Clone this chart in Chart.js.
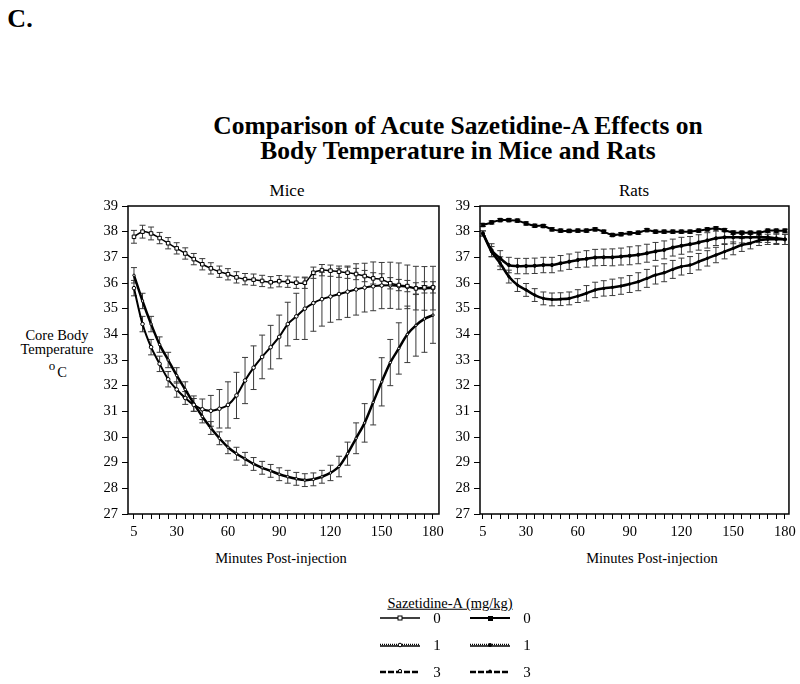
<!DOCTYPE html>
<html>
<head>
<meta charset="utf-8">
<script src="https://cdn.jsdelivr.net/npm/chart.js@4.4.1/dist/chart.umd.min.js"></script>
<style>
body { margin:0; width:800px; height:684px; background:#fff; position:relative; overflow:hidden;
       font-family:'Liberation Serif','Times New Roman',serif; color:#000; }
.t { position:absolute; white-space:nowrap; line-height:1; transform:translate(-50%,-50%); }
canvas { position:absolute; }
</style>
</head>
<body>
<div class="t" style="left:20px;top:19px;font-size:26px;font-weight:bold;">C.</div>
<div class="t" style="left:458px;top:126px;font-size:25.5px;font-weight:bold;">Comparison of Acute Sazetidine-A Effects on</div>
<div class="t" style="left:458px;top:151px;font-size:25.5px;font-weight:bold;">Body Temperature in Mice and Rats</div>

<div class="t" style="left:287px;top:190px;font-size:17px;">Mice</div>
<div class="t" style="left:634px;top:190px;font-size:17px;">Rats</div>

<div class="t" style="left:57px;top:335px;font-size:14.5px;">Core Body</div>
<div class="t" style="left:57px;top:349px;font-size:14.5px;">Temperature</div>
<div class="t" style="left:52px;top:365px;font-size:13px;">o</div>
<div class="t" style="left:62px;top:372px;font-size:14.5px;">C</div>

<div class="t" style="left:281px;top:558px;font-size:14.5px;">Minutes Post-injection</div>
<div class="t" style="left:652px;top:558px;font-size:14.5px;">Minutes Post-injection</div>

<canvas id="miceChart" width="360" height="360" style="left:88px;top:190px;"></canvas>
<canvas id="ratsChart" width="352" height="360" style="left:448px;top:190px;"></canvas>

<!-- legend -->
<div class="t" style="left:450px;top:603px;font-size:14.5px;text-decoration:underline;">Sazetidine-A (mg/kg)</div>
<svg width="800" height="684" style="position:absolute;left:0;top:0;pointer-events:none;">
  <line x1="380" y1="618" x2="420" y2="618" stroke="#000" stroke-width="1.5"/>
  <rect x="398" y="616" width="4" height="4" fill="#fff" stroke="#000" stroke-width="1"/>
  <line x1="470" y1="618" x2="510" y2="618" stroke="#000" stroke-width="2"/>
  <rect x="488" y="616" width="5" height="5" fill="#000"/>

  <line x1="380" y1="646" x2="420" y2="646" stroke="#000" stroke-width="1.5"/>
  <line x1="380" y1="644.5" x2="420" y2="644.5" stroke="#000" stroke-width="1.5" stroke-dasharray="1 1"/>
  <circle cx="400" cy="645" r="1.8" fill="#fff" stroke="#000" stroke-width="1"/>
  <line x1="470" y1="646" x2="510" y2="646" stroke="#000" stroke-width="1.5"/>
  <line x1="470" y1="644.5" x2="510" y2="644.5" stroke="#000" stroke-width="1.5" stroke-dasharray="1 1"/>
  <circle cx="490" cy="645" r="2" fill="#000"/>

  <line x1="380" y1="672" x2="420" y2="672" stroke="#000" stroke-width="2.5" stroke-dasharray="6 2"/>
  <circle cx="400" cy="671" r="1.6" fill="#fff" stroke="#000" stroke-width="1"/>
  <line x1="470" y1="672" x2="510" y2="672" stroke="#000" stroke-width="2.5" stroke-dasharray="6 2"/>
  <circle cx="490" cy="671" r="1.6" fill="#000"/>
</svg>
<div class="t" style="left:437px;top:618px;font-size:15px;">0</div>
<div class="t" style="left:437px;top:645px;font-size:15px;">1</div>
<div class="t" style="left:437px;top:672px;font-size:15px;">3</div>
<div class="t" style="left:527px;top:618px;font-size:15px;">0</div>
<div class="t" style="left:527px;top:645px;font-size:15px;">1</div>
<div class="t" style="left:527px;top:672px;font-size:15px;">3</div>

<script>
// minutes after injection (one reading every 5 min)
var minutes = [5,10,15,20,25,30,35,40,45,50,55,60,65,70,75,80,85,90,
               95,100,105,110,115,120,125,130,135,140,145,150,155,160,165,170,175,180];
var xTickLabels = [5, 30, 60, 90, 120, 150, 180];
var tempMin = 27, tempMax = 39;

// mice, core body temperature (deg C) by dose
var miceDose0 = [37.8,38.0,37.93,37.75,37.55,37.35,37.15,36.93,36.73,36.57,36.44,36.34,36.22,36.15,36.13,36.08,36.03,36.07,
                 36.05,36.01,36.01,36.4,36.5,36.48,36.44,36.4,36.35,36.27,36.18,36.14,35.99,35.92,35.88,35.79,35.83,35.83];
var miceDose1 = [35.8,34.4,33.5,32.85,32.25,31.85,31.52,31.25,31.08,31.02,31.1,31.25,31.62,32.2,32.7,33.12,33.5,33.9,
                 34.4,34.7,35.0,35.22,35.37,35.47,35.57,35.66,35.75,35.82,35.87,35.9,35.91,35.88,35.85,35.8,35.79,35.8];
var miceDose3 = [36.3,35.3,34.4,33.6,33.0,32.4,31.85,31.3,30.8,30.35,29.95,29.6,29.35,29.15,28.95,28.8,28.68,28.55,
                 28.45,28.37,28.32,28.35,28.45,28.6,28.85,29.35,29.95,30.55,31.35,32.15,32.9,33.45,34.0,34.35,34.6,34.75];
// SEM
var miceErr0 = [0.25,0.25,0.25,0.22,0.22,0.22,0.22,0.22,0.22,0.22,0.22,0.22,0.22,0.22,0.22,0.22,0.22,0.22,
                0.22,0.22,0.22,0.22,0.22,0.22,0.22,0.22,0.22,0.22,0.22,0.22,0.22,0.22,0.22,0.22,0.22,0.22];
var miceErr1 = [0.3,0.3,0.3,0.3,0.3,0.3,0.25,0.25,0.4,0.6,0.75,0.9,0.9,0.9,0.85,0.85,0.85,0.85,
                0.85,0.9,1.2,1.1,1.05,1.0,1.0,1.0,1.0,0.95,0.95,0.9,0.9,0.9,0.85,0.85,0.85,0.85];
var miceErr3 = [0.3,0.3,0.3,0.3,0.3,0.3,0.3,0.3,0.25,0.25,0.25,0.25,0.25,0.25,0.25,0.25,0.25,0.25,
                0.25,0.25,0.25,0.25,0.25,0.3,0.4,0.45,0.6,0.75,0.88,0.94,0.9,1.0,1.1,1.2,1.3,1.1];

// rats
var ratsDose0 = [38.26,38.36,38.45,38.45,38.43,38.32,38.23,38.22,38.09,38.04,38.03,38.04,38.04,38.09,38.0,37.87,37.9,37.94,
                 37.96,38.06,38.0,38.0,38.0,38.0,38.0,38.04,38.09,38.13,38.06,37.96,37.96,37.96,37.96,38.04,38.04,38.04];
var ratsDose1 = [37.93,37.28,36.96,36.7,36.66,36.66,36.67,36.7,36.7,36.77,36.83,36.9,36.94,36.99,37.0,37.0,37.03,37.06,
                 37.1,37.16,37.23,37.29,37.38,37.45,37.51,37.58,37.66,37.74,37.78,37.78,37.78,37.78,37.78,37.78,37.74,37.7];
var ratsDose3 = [37.93,37.22,36.77,36.25,35.92,35.73,35.53,35.4,35.36,35.37,35.4,35.49,35.6,35.73,35.79,35.83,35.88,35.96,
                 36.05,36.18,36.31,36.4,36.53,36.64,36.7,36.83,36.96,37.09,37.22,37.35,37.48,37.55,37.66,37.7,37.7,37.7];
var ratsErr0 = [0.06,0.06,0.06,0.06,0.06,0.06,0.06,0.06,0.06,0.06,0.06,0.06,0.06,0.06,0.06,0.06,0.06,0.06,
                0.06,0.06,0.06,0.06,0.06,0.06,0.06,0.06,0.06,0.06,0.06,0.06,0.06,0.06,0.06,0.06,0.06,0.06];
var ratsErr1 = [0.1,0.25,0.3,0.3,0.3,0.3,0.3,0.3,0.3,0.3,0.3,0.3,0.32,0.32,0.32,0.33,0.33,0.35,
                0.35,0.35,0.35,0.35,0.33,0.33,0.3,0.3,0.3,0.28,0.25,0.25,0.22,0.2,0.2,0.2,0.2,0.2];
var ratsErr3 = [0.1,0.2,0.25,0.25,0.25,0.25,0.25,0.25,0.25,0.25,0.25,0.25,0.3,0.3,0.3,0.32,0.32,0.33,
                0.35,0.35,0.35,0.35,0.35,0.33,0.33,0.32,0.3,0.3,0.28,0.25,0.25,0.22,0.2,0.2,0.2,0.2];

Chart.defaults.font.family = "'Liberation Serif','Times New Roman',serif";
Chart.defaults.color = '#000';

function pts(vals) {
    return minutes.map(function(m, i) { return { x: m, y: vals[i] }; });
}

// SEM bars behind the lines
var errorBars = {
    id: 'errorBars',
    beforeDatasetsDraw: function(chart) {
        var ctx = chart.ctx, ys = chart.scales.y;
        chart.data.datasets.forEach(function(ds, i) {
            if (!ds.errors) return;
            var meta = chart.getDatasetMeta(i);
            ctx.save();
            ctx.strokeStyle = '#3a3a3a';
            ctx.lineWidth = 1;
            meta.data.forEach(function(p, j) {
                var v = ds.data[j].y, e = ds.errors[j];
                var top = ys.getPixelForValue(v + e), bot = ys.getPixelForValue(v - e);
                ctx.beginPath();
                ctx.moveTo(p.x, top); ctx.lineTo(p.x, bot);
                ctx.moveTo(p.x - 3, top); ctx.lineTo(p.x + 3, top);
                ctx.moveTo(p.x - 3, bot); ctx.lineTo(p.x + 3, bot);
                ctx.stroke();
            });
            ctx.restore();
        });
    }
};

// full frame round the plot
var frame = {
    id: 'frame',
    afterDraw: function(chart) {
        var a = chart.chartArea, ctx = chart.ctx;
        ctx.save();
        ctx.strokeStyle = '#000';
        ctx.lineWidth = 1.5;
        ctx.strokeRect(a.left, a.top, a.right - a.left, a.bottom - a.top);
        ctx.restore();
    }
};

function makePanel(id, datasets, xMin, xMax, yWidth, padRight) {
    var canvas = document.getElementById(id);
    if (!canvas) { console.error("no canvas " + id); return; }
    return new Chart(canvas.getContext('2d'), {
        type: 'line',
        data: { datasets: datasets },
        options: {
            responsive: false,
            animation: false,
            devicePixelRatio: 1,
            layout: { padding: { top: 16, right: padRight, left: 0, bottom: 0 } },
            plugins: { legend: { display: false }, tooltip: { enabled: false } },
            scales: {
                x: {
                    type: 'linear', min: xMin, max: xMax,
                    afterBuildTicks: function(s) { s.ticks = minutes.map(function(m) { return { value: m }; }); },
                    afterFit: function(s) { s.height = 36; },
                    grid: { drawOnChartArea: false, drawTicks: true, tickLength: 5, color: '#000' },
                    border: { display: false },
                    ticks: {
                        autoSkip: false, maxRotation: 0, padding: 4, font: { size: 14.5 },
                        callback: function(v) { return xTickLabels.indexOf(v) >= 0 ? String(v) : ''; }
                    }
                },
                y: {
                    min: tempMin, max: tempMax,
                    afterFit: function(s) { s.width = yWidth; },
                    grid: { drawOnChartArea: false, drawTicks: true, tickLength: 6, color: '#000' },
                    border: { display: false },
                    ticks: { stepSize: 1, padding: 4, font: { size: 14.5 } }
                }
            }
        },
        plugins: [errorBars, frame]
    });
}

makePanel('miceChart', [
    { data: pts(miceDose0), errors: miceErr0, borderColor: '#000', borderWidth: 1.5, tension: 0.3,
      pointStyle: 'rect', pointRadius: 2.5, pointBackgroundColor: '#fff', pointBorderColor: '#000', pointBorderWidth: 1 },
    { data: pts(miceDose1), errors: miceErr1, borderColor: '#000', borderWidth: 2, tension: 0.3,
      pointStyle: 'circle', pointRadius: 1.8, pointBackgroundColor: '#fff', pointBorderColor: '#000', pointBorderWidth: 1 },
    { data: pts(miceDose3), errors: miceErr3, borderColor: '#000', borderWidth: 2.5, tension: 0.3,
      pointStyle: 'circle', pointRadius: 1.2, pointBackgroundColor: '#fff', pointBorderColor: '#000', pointBorderWidth: 1 }
], 1.5, 183.5, 40, 7);

makePanel('ratsChart', [
    { data: pts(ratsDose0), errors: ratsErr0, borderColor: '#000', borderWidth: 2, tension: 0.3,
      pointStyle: 'rect', pointRadius: 2.5, pointBackgroundColor: '#000', pointBorderColor: '#000', pointBorderWidth: 1 },
    { data: pts(ratsDose1), errors: ratsErr1, borderColor: '#000', borderWidth: 2.5, tension: 0.3,
      pointStyle: 'circle', pointRadius: 1.6, pointBackgroundColor: '#000', pointBorderColor: '#000', pointBorderWidth: 1 },
    { data: pts(ratsDose3), errors: ratsErr3, borderColor: '#000', borderWidth: 2.5, tension: 0.3,
      pointStyle: 'circle', pointRadius: 1.2, pointBackgroundColor: '#000', pointBorderColor: '#000', pointBorderWidth: 1 }
], 3.3, 182.3, 32, 11);
</script>
</body>
</html>
